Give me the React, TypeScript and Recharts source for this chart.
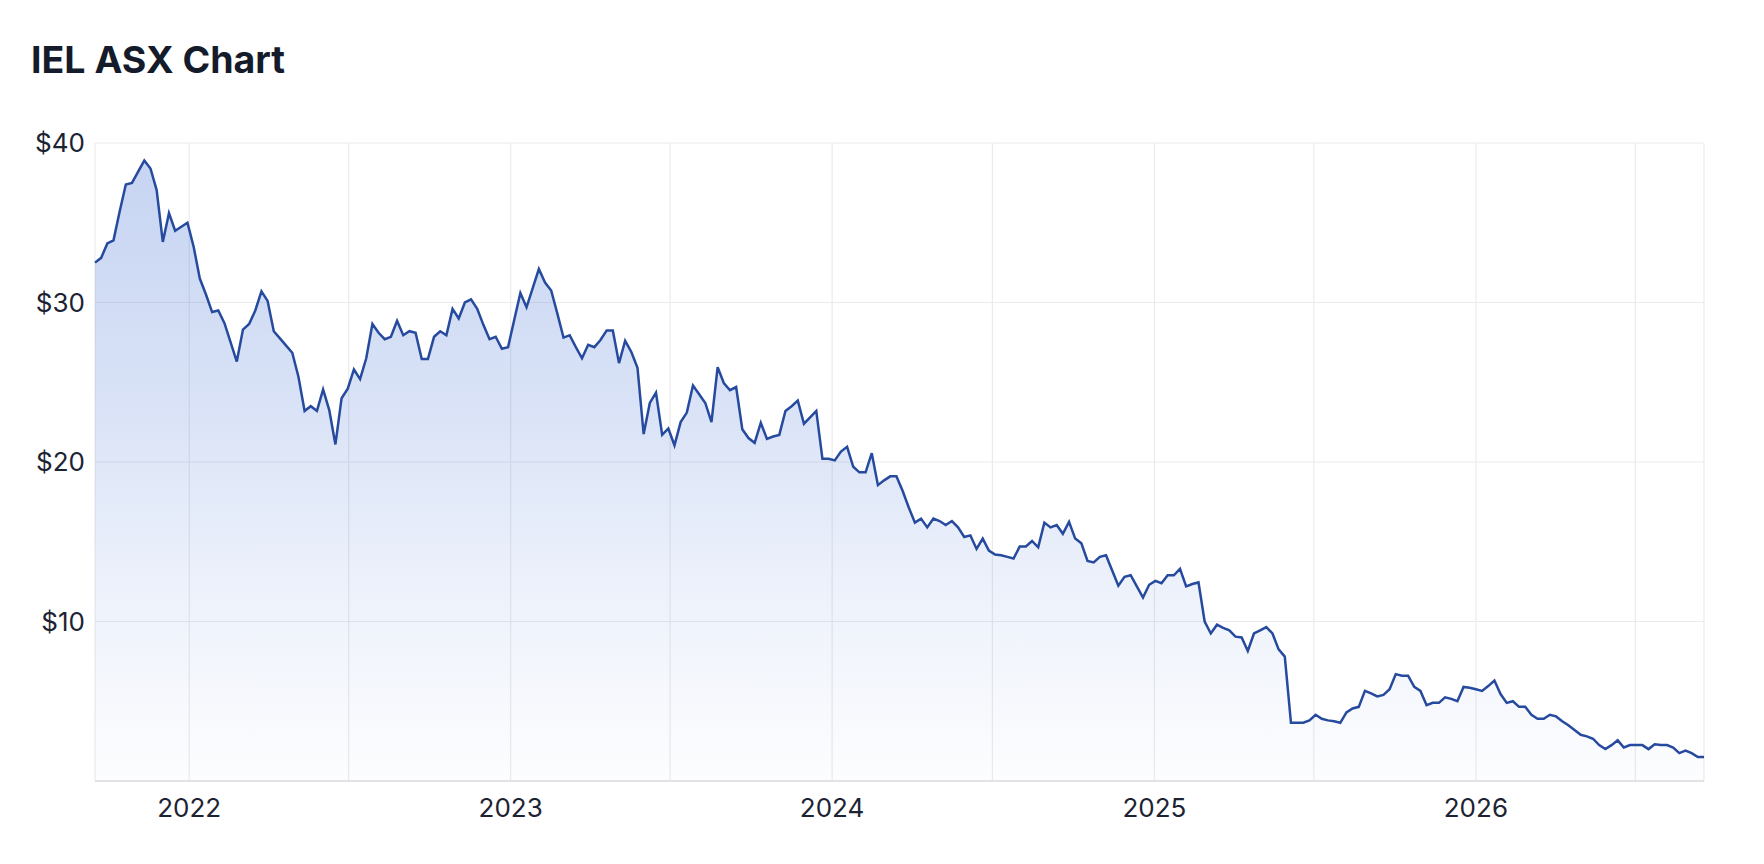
import React from "react";
import {
  AreaChart,
  Area,
  XAxis,
  YAxis,
  CartesianGrid,
} from "recharts";

// Weekly closing prices (AUD)
const firstWeek = "2021-09-16";
const prices = [
  32.5, 32.8, 33.7, 33.9, 35.7, 37.4, 37.5, 38.2, 38.9, 38.4,
  37.05, 33.8, 35.6, 34.5, 34.75, 35.0, 33.5, 31.5, 30.5, 29.4,
  29.5, 28.7, 27.5, 26.3, 28.3, 28.65, 29.5, 30.7, 30.1, 28.2,
  27.75, 27.3, 26.85, 25.35, 23.2, 23.5, 23.2, 24.55, 23.25, 21.1,
  24.0, 24.6, 25.8, 25.2, 26.5, 28.65, 28.1, 27.7, 27.85, 28.85,
  27.95, 28.2, 28.1, 26.45, 26.45, 27.85, 28.2, 27.95, 29.6, 29.0,
  30.0, 30.2, 29.6, 28.6, 27.7, 27.85, 27.1, 27.2, 28.9, 30.6,
  29.7, 30.9, 32.1, 31.25, 30.75, 29.3, 27.8, 27.95, 27.2, 26.5,
  27.35, 27.2, 27.65, 28.25, 28.25, 26.2, 27.6, 26.9, 25.9, 21.75,
  23.7, 24.35, 21.7, 22.1, 21.05, 22.5, 23.1, 24.8, 24.25, 23.7,
  22.5, 25.95, 24.95, 24.5, 24.7, 22.05, 21.5, 21.2, 22.45, 21.45,
  21.6, 21.7, 23.2, 23.5, 23.85, 22.4, 22.8, 23.2, 20.2, 20.2,
  20.1, 20.65, 20.95, 19.7, 19.35, 19.35, 20.55, 18.55, 18.85, 19.1,
  19.1, 18.2, 17.15, 16.2, 16.45, 15.9, 16.45, 16.3, 16.05, 16.3,
  15.9, 15.3, 15.4, 14.55, 15.2, 14.45, 14.2, 14.15, 14.05, 13.95,
  14.7, 14.7, 15.05, 14.65, 16.2, 15.9, 16.05, 15.5, 16.25, 15.2,
  14.9, 13.8, 13.7, 14.05, 14.15, 13.2, 12.25, 12.8, 12.9, 12.2,
  11.5, 12.3, 12.55, 12.4, 12.9, 12.9, 13.3, 12.2, 12.35, 12.45,
  10.0, 9.25, 9.8, 9.6, 9.45, 9.05, 9.0, 8.15, 9.25, 9.45,
  9.65, 9.25, 8.25, 7.8, 3.65, 3.65, 3.65, 3.8, 4.15, 3.9,
  3.8, 3.75, 3.65, 4.3, 4.55, 4.65, 5.65, 5.5, 5.3, 5.4,
  5.75, 6.7, 6.6, 6.6, 5.9, 5.65, 4.75, 4.9, 4.9, 5.25,
  5.15, 5.0, 5.9, 5.85, 5.75, 5.65, 5.95, 6.3, 5.45, 4.9,
  5.0, 4.65, 4.65, 4.15, 3.9, 3.9, 4.15, 4.05, 3.75, 3.5,
  3.2, 2.9, 2.8, 2.65, 2.25, 2.0, 2.25, 2.55, 2.1, 2.25,
  2.25, 2.25, 2.0, 2.3, 2.25, 2.25, 2.1, 1.75, 1.9, 1.75,
  1.5, 1.5,
];

// Half-yearly grid lines, year labels on January
const gridDates = [
  "2022-01-01", "2022-07-01", "2023-01-01", "2023-07-01", "2024-01-01",
  "2024-07-01", "2025-01-01", "2025-07-01", "2026-01-01", "2026-07-01",
];
const priceTicks = [0, 10, 20, 30, 40];

const DAY = 86400000;
const start = Date.parse(firstWeek);
const data = prices.map((price, i) => ({ t: start + i * 7 * DAY, price }));
const xTicks = [data[0].t, ...gridDates.map((d) => Date.parse(d)), data[data.length - 1].t];

const font = "Inter, 'Noto Sans', sans-serif";
const tickStyle = { fill: "#1c2333", fontSize: 26, fontFamily: font };

function formatYear(t: number) {
  const d = new Date(t);
  return d.getUTCMonth() === 0 && d.getUTCDate() === 1 ? String(d.getUTCFullYear()) : "";
}

export default function App() {
  return (
    <div style={{ position: "relative", width: 1748, height: 848, background: "#fff" }}>
      <h2
        style={{
          position: "absolute",
          left: 23,
          top: 29,
          margin: 0,
          fontFamily: font,
          fontWeight: 700,
          fontSize: 37.5,
          lineHeight: "46px",
          color: "#141b2b",
          zIndex: 1,
        }}
      >
        IEL ASX Chart
      </h2>
      <AreaChart
        width={1740}
        height={840}
        data={data}
        margin={{ top: 135, right: 44, bottom: 7, left: 0 }}
      >
        <defs>
          <linearGradient id="ielFill" x1="0" y1="0" x2="0" y2="1">
            <stop offset="0%" stopColor="#2f62d0" stopOpacity={0.45} />
            <stop offset="40%" stopColor="#2f62d0" stopOpacity={0.3} />
            <stop offset="70%" stopColor="#2f62d0" stopOpacity={0.14} />
            <stop offset="100%" stopColor="#2f62d0" stopOpacity={0.02} />
          </linearGradient>
        </defs>
        <CartesianGrid stroke="#ebebeb" strokeWidth={1.2} />
        <XAxis
          dataKey="t"
          type="number"
          scale="time"
          domain={["dataMin", "dataMax"]}
          ticks={xTicks}
          interval={0}
          tickFormatter={formatYear}
          tick={tickStyle}
          tickLine={false}
          tickSize={0}
          tickMargin={18}
          axisLine={{ stroke: "#e3e3e3", strokeWidth: 2 }}
          height={60}
        />
        <YAxis
          domain={[0, 40]}
          ticks={priceTicks}
          tickFormatter={(v: number) => (v === 0 ? "" : `$${v}`)}
          tick={tickStyle}
          tickLine={false}
          tickSize={0}
          tickMargin={10}
          axisLine={false}
          width={87}
        />
        <Area
          type="linear"
          dataKey="price"
          stroke="#264a9e"
          strokeWidth={2.5}
          fill="url(#ielFill)"
          dot={false}
          activeDot={false}
          isAnimationActive={false}
        />
      </AreaChart>
    </div>
  );
}
